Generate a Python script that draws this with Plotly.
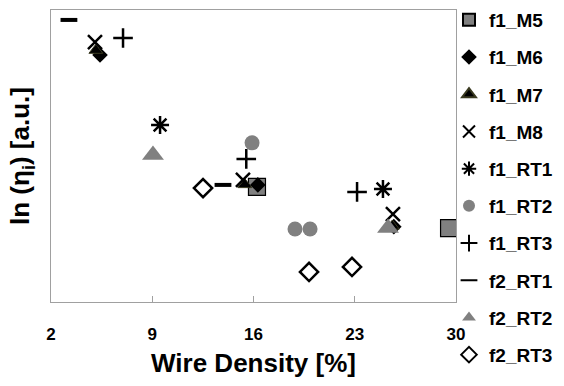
import plotly.graph_objects as go

# Data (y is ln(eta_i) in arbitrary units, no tick labels shown)
names = ["f1_M5", "f1_M6", "f1_M7", "f1_M8", "f1_RT1", "f1_RT2", "f1_RT3", "f2_RT1", "f2_RT2", "f2_RT3"]

f1_M5_x = [16.24, 29.52]
f1_M5_y = [3.94, 2.53]
f1_M6_x = [5.39, 16.3, 25.7]
f1_M6_y = [8.46, 4.01, 2.58]
f1_M7_x = [5.1, 15.4, 25.6]
f1_M7_y = [8.62, 4.02, 2.6]
f1_M8_x = [5.04, 15.27, 25.64]
f1_M8_y = [8.90, 4.18, 3.01]
f1_RT1_x = [9.54, 24.95]
f1_RT1_y = [6.06, 3.87]
f1_RT2_x = [15.90, 18.87, 19.91]
f1_RT2_y = [5.45, 2.50, 2.50]
f1_RT3_x = [6.98, 15.5, 23.16]
f1_RT3_y = [9.04, 4.90, 3.77]
f2_RT1_x = [3.24, 13.89]
f2_RT1_y = [9.66, 4.01]
f2_RT2_x = [9.05, 25.30]
f2_RT2_y = [5.03, 2.53]
f2_RT3_x = [12.51, 19.84, 22.81]
f2_RT3_y = [3.90, 1.03, 1.20]

x_ticks = [2, 9, 16, 23, 30]

GRAY = "#808080"
BLACK = "#000000"

series = [
    (f1_M5_x, f1_M5_y, dict(symbol="square", size=17, color=GRAY, line=dict(color=BLACK, width=1.2))),
    (f1_M6_x, f1_M6_y, dict(symbol="diamond", size=12, color=BLACK, line=dict(color=BLACK, width=0))),
    (f1_M7_x, f1_M7_y, dict(symbol="triangle-up", size=12, color=BLACK, line=dict(color="#3a3a20", width=1))),
    (f1_M8_x, f1_M8_y, dict(symbol="x-thin-open", size=14, color=BLACK, line=dict(color=BLACK, width=2.5))),
    (f1_RT1_x, f1_RT1_y, dict(symbol="asterisk-open", size=15, color=BLACK, line=dict(color=BLACK, width=2.5))),
    (f1_RT2_x, f1_RT2_y, dict(symbol="circle", size=15, color=GRAY, line=dict(color=GRAY, width=0))),
    (f1_RT3_x, f1_RT3_y, dict(symbol="cross-thin-open", size=14, color=BLACK, line=dict(color=BLACK, width=2.5))),
    (f2_RT1_x, f2_RT1_y, dict(symbol="line-ew-open", size=12, color=BLACK, line=dict(color=BLACK, width=4))),
    (f2_RT2_x, f2_RT2_y, dict(symbol="triangle-up", size=19, color=GRAY, line=dict(color=GRAY, width=0))),
    (f2_RT3_x, f2_RT3_y, dict(symbol="diamond-open", size=14, color=BLACK, line=dict(color=BLACK, width=2.5))),
]

fig = go.Figure()
for name, (xs, ys, mk) in zip(names, series):
    fig.add_trace(go.Scatter(x=xs, y=ys, mode="markers", name=name, marker=mk,
                             legendgroup=name))

FONT = "Liberation Sans, Arial, sans-serif"

fig.update_layout(
    width=564, height=386,
    margin=dict(l=51, r=108, t=10, b=84, autoexpand=False),
    paper_bgcolor="white", plot_bgcolor="white",
    font=dict(family=FONT, color=BLACK),
    hovermode=False,
    showlegend=True,
    legend=dict(xref="container", yref="container", x=449 / 564, xanchor="left",
                y=1.0 - 1 / 386, yanchor="top", maxheight=1,
                font=dict(family=FONT, size=19, color=BLACK, weight="bold"),
                tracegroupgap=9.5, itemsizing="constant", itemwidth=30,
                bgcolor="rgba(0,0,0,0)"),
)
fig.update_xaxes(
    range=[2, 30], tickvals=x_ticks, ticktext=[str(v) for v in x_ticks],
    ticks="inside", ticklen=6, tickcolor="#a0a0a0",
    showline=True, linecolor="#a0a0a0", linewidth=1, mirror=True,
    showgrid=False, zeroline=False,
    tickfont=dict(family=FONT, size=17, color=BLACK, weight="bold"),
    ticklabelstandoff=17,
    title=dict(text="Wire Density [%]", font=dict(family=FONT, size=26, color=BLACK, weight="bold"),
               standoff=10),
)
fig.update_yaxes(
    range=[0, 10], showticklabels=False, ticks="",
    showline=True, linecolor="#a0a0a0", linewidth=1, mirror=True,
    showgrid=False, zeroline=False,
    title=dict(text="ln (η<sub>i</sub>) [a.u.]", font=dict(family=FONT, size=26, color=BLACK, weight="bold"),
               standoff=12),
)

# remove the browser's default body margin so the figure fills the window exactly
fig.write_html("out.html", config={"displayModeBar": False},
               post_script="document.body.style.margin='0px';document.body.style.overflow='hidden';")
